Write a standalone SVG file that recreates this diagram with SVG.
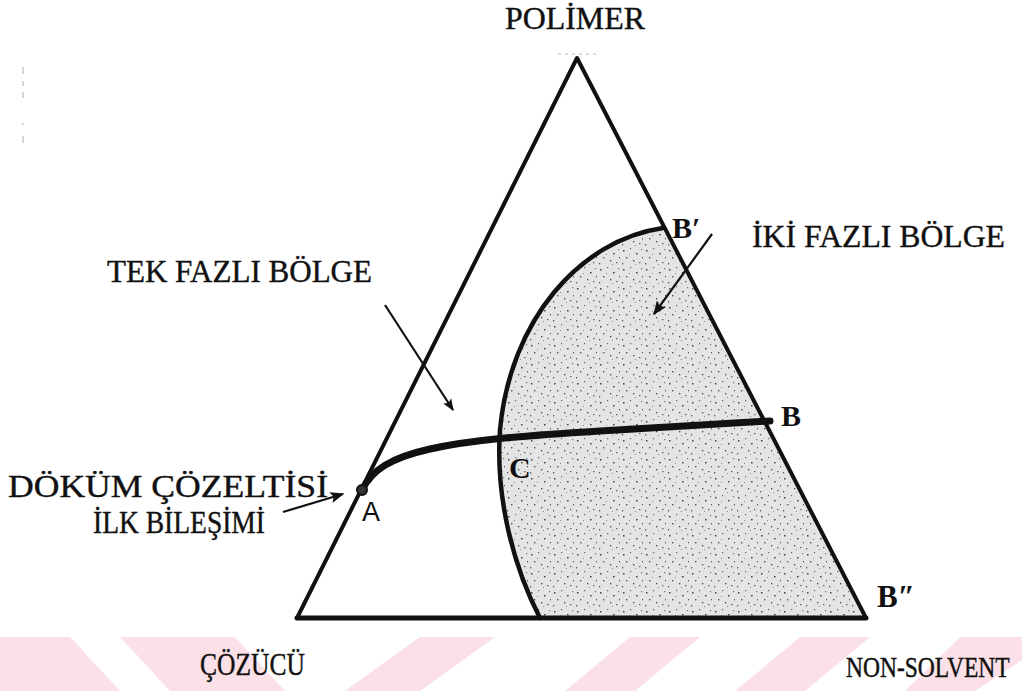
<svg xmlns="http://www.w3.org/2000/svg" width="1022" height="691" viewBox="0 0 1022 691">
<style>
.lbl{font-family:"Liberation Serif","Times New Roman",serif;font-size:31px;fill:#111;stroke:#111;stroke-width:0.4}
.pt{font-family:"Liberation Serif","Times New Roman",serif;font-weight:bold;font-size:30px;fill:#111}
.edge{fill:none;stroke:#111;stroke-linecap:round;stroke-linejoin:round}
.arr{fill:none;stroke:#111;stroke-width:2.2}
.wm{fill:#fbe1e7}
</style>
<defs>
<pattern id="stip" width="23" height="19" patternUnits="userSpaceOnUse">
<rect width="23" height="19" fill="#e4e4e4"/>
<rect x="2" y="3" width="1.5" height="1.5" fill="#444"/>
<rect x="9" y="1" width="1.2" height="1.2" fill="#666"/>
<rect x="15" y="6" width="1.6" height="1.4" fill="#444"/>
<rect x="20" y="2" width="1.2" height="1.2" fill="#777"/>
<rect x="5" y="10" width="1.4" height="1.4" fill="#555"/>
<rect x="12" y="13" width="1.3" height="1.3" fill="#444"/>
<rect x="18" y="15" width="1.5" height="1.2" fill="#666"/>
<rect x="1" y="16" width="1.2" height="1.4" fill="#555"/>
<rect x="8" y="7" width="1" height="1" fill="#888"/>
<rect x="21" y="10" width="1" height="1.3" fill="#555"/>
<rect x="14" y="17" width="1" height="1" fill="#888"/>
</pattern>
<marker id="ah" viewBox="0 0 10 10" refX="9" refY="5" markerWidth="12" markerHeight="12" orient="auto" markerUnits="userSpaceOnUse">
<path d="M0,1 L10,5 L0,9 L2,5 Z" fill="#111"/>
</marker>
<marker id="ahb" viewBox="0 0 10 10" refX="9" refY="5" markerWidth="14" markerHeight="14" orient="auto" markerUnits="userSpaceOnUse">
<path d="M0,1 L10,5 L0,9 L2,5 Z" fill="#111"/>
</marker>
</defs>

<g id="watermark">
<polygon class="wm" points="0,637 70,637 120,691 0,691"/>
<polygon class="wm" points="120,637 235,637 285,691 170,691"/>
<polygon class="wm" points="420,637 495,637 420,691 345,691"/>
<polygon class="wm" points="630,637 700,637 635,691 565,691"/>
<polygon class="wm" points="800,637 870,637 805,691 735,691"/>
<polygon class="wm" points="960,637 1022,637 1022,660 975,691 905,691"/>
</g>

<g id="scan-marks" stroke="#bbb" stroke-width="1.2">
<line x1="23" y1="67" x2="23" y2="74"/>
<line x1="23" y1="81" x2="23" y2="86"/>
<line x1="23" y1="92" x2="23" y2="98"/>
<line x1="23" y1="123" x2="23" y2="125"/>
<line x1="23" y1="136" x2="23" y2="143"/>
<line x1="558" y1="54" x2="600" y2="54" stroke-dasharray="3 4"/>
</g>

<g id="two-phase-region">
<path d="M663,228 C580,240 510,320 500,430 C495,500 515,570 540,618 L866,618 Z" fill="url(#stip)"/>
</g>

<g id="triangle">
<path class="edge" d="M297,618 L577,58 L866,618 Z" stroke-width="4"/>
<line class="edge" x1="297" y1="618" x2="866" y2="618" stroke-width="5"/>
</g>

<g id="binodal">
<path class="edge" d="M663,228 C580,240 510,320 500,430 C495,500 515,570 540,618" stroke-width="4.5"/>
</g>

<g id="path-A-B">
<path class="edge" d="M362,490 C372,470 390,458 430,449 C470,440 520,436 600,431 C680,426 730,423 770,421" stroke-width="7"/>
<circle cx="362" cy="490" r="5" fill="#333" stroke="#111" stroke-width="2"/>
</g>

<g id="connectors">
<line class="arr" x1="385" y1="305" x2="453" y2="410" marker-end="url(#ah)"/>
<line class="arr" x1="712" y1="234" x2="654" y2="314" marker-end="url(#ahb)"/>
<line class="arr" x1="283" y1="512" x2="343" y2="494" marker-end="url(#ahb)"/>
</g>

<g id="label-polimer"><text class="lbl" x="505" y="29" textLength="140" lengthAdjust="spacingAndGlyphs">POLİMER</text></g>
<g id="label-iki"><text class="lbl" x="752" y="247" textLength="253" lengthAdjust="spacingAndGlyphs">İKİ FAZLI BÖLGE</text></g>
<g id="label-tek"><text class="lbl" x="107" y="282" textLength="265" lengthAdjust="spacingAndGlyphs">TEK FAZLI BÖLGE</text></g>
<g id="label-dokum">
<text class="lbl" x="8" y="497" textLength="320" lengthAdjust="spacingAndGlyphs">DÖKÜM ÇÖZELTİSİ</text>
<text class="lbl" x="93" y="533" textLength="172" lengthAdjust="spacingAndGlyphs">İLK BİLEŞİMİ</text>
</g>
<g id="label-cozucu"><text class="lbl" transform="translate(200,675) scale(1,1.22)" x="0" y="0" style="font-size:25.5px;stroke-width:0.35">ÇÖZÜCÜ</text></g>
<g id="label-nonsolvent"><text class="lbl" transform="translate(846,677) scale(1,1.25)" x="0" y="0" style="font-size:23.5px;stroke-width:0.35">NON-SOLVENT</text></g>

<g id="point-A"><text x="362" y="521" font-family="Liberation Sans, Arial, sans-serif" font-size="27" fill="#111">A</text></g>
<g id="point-C"><text class="pt" x="509" y="478">C</text></g>
<g id="point-B"><text class="pt" x="781" y="426">B</text></g>
<g id="point-B1"><text class="pt" x="672" y="238">B′</text></g>
<g id="point-B2"><text class="pt" x="877" y="607" style="font-size:31px">B″</text></g>
</svg>
